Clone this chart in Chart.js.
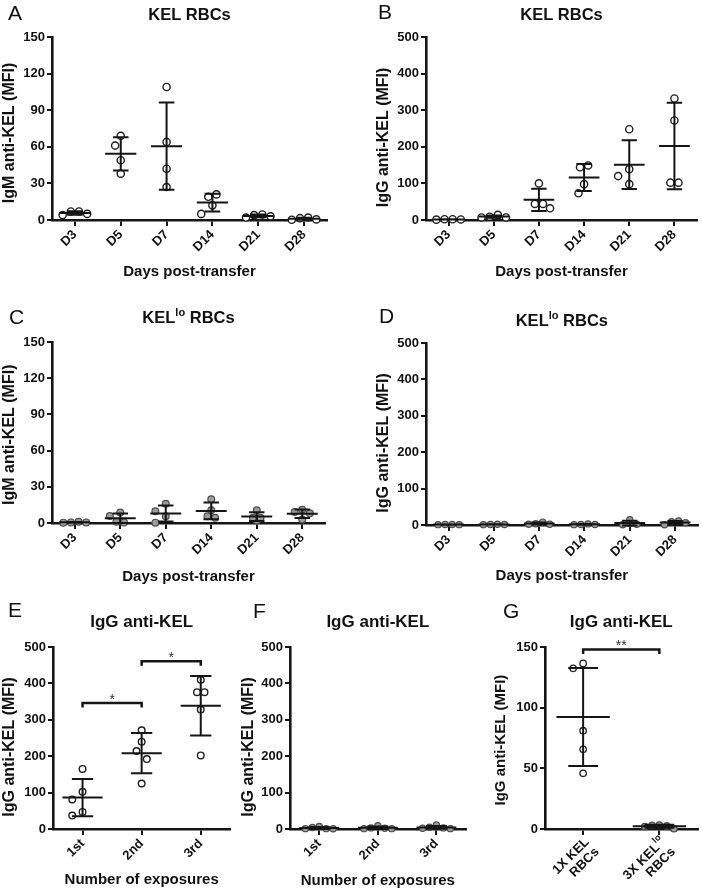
<!DOCTYPE html>
<html><head><meta charset="utf-8">
<script src="https://cdn.jsdelivr.net/npm/chart.js@4.4.1/dist/chart.umd.min.js"></script>
<style>
html,body{margin:0;padding:0;background:#fff;}
#fig{position:relative;width:702px;height:894px;overflow:hidden;background:#fff;}
.panel{position:absolute;}
.panel canvas{display:block;}
.letter{position:absolute;font-family:'Liberation Sans',Arial,sans-serif;font-size:21px;line-height:1;color:#111;}
</style></head><body><div id="fig"></div>
<script>
// ---------------- data ----------------
const dayCategories = ['D3','D5','D7','D14','D21','D28'];
const exposureCategories = ['1st','2nd','3rd'];
const comparisonCategories = [['1X KEL','RBCs'],['3X KEL<sup>lo</sup>','RBCs']];

const yTicks150by30 = [0,30,60,90,120,150];
const yTicks500 = [0,100,200,300,400,500];
const yTicks150by50 = [0,50,100,150];

// A: IgM anti-KEL, KEL RBCs (one list per day)
const igmKelRbc = [[7,4,5,7],[69,61,49,38],[109,64,42,27],[21,19,12,5],[4.5,2,3,4],[1.5,0.5,0.2,2]];
// B: IgG anti-KEL, KEL RBCs
const iggKelRbc = [[2,1.5,1,2],[9,7,7,14],[100,44,32,44],[149,144,98,73],[248,139,120,98],[332,272,102,102]];
// C: IgM anti-KEL, KELlo RBCs
const igmKelLoRbc = [[0.5,0.3,0.5,1],[5.8,0.5,1,8.6],[16,0.3,5.5,9.7],[19.6,10.5,4.4,5.5],[10.5,2,4.4,4.4],[11,2.8,9.1,8]];
// D: IgG anti-KEL, KELlo RBCs
const iggKelLoRbc = [[1.5,1,1,1.5],[1.5,1.5,1,2],[2,2,3.5,8],[1.5,1,1.5,3],[4,0.5,2,14.5],[11,0.5,9,6]];
// E: IgG anti-KEL by number of KEL exposures
const iggExposureKel = [[165,102,81,47,37],[271,240,214,192,125],[410,376,376,328,202]];
// F: IgG anti-KEL by number of KELlo exposures
const iggExposureKelLo = [[7,1,0.5,1,4],[9,2,1,1,3],[11,3,1,2,5]];
// G: 1X KEL vs 3X KELlo
const iggComparison = [[136.5,132.4,81,65.7,45.9],[3,2,0.2,2.5,3.3]];

const exposureBrackets = [{from:0,to:1,y:346,label:'*'},{from:1,to:2,y:461,label:'*'}];
const comparisonBrackets = [{from:0,to:1,y:148,label:'**'}];

// ---------------- helpers ----------------
const FONT = "'Liberation Sans', Arial, Helvetica, sans-serif";
Chart.defaults.font.family = FONT;
Chart.defaults.color = '#111';

function segments(text){
  const out=[]; const re=/<sup>(.*?)<\/sup>/g; let last=0,m;
  while((m=re.exec(text))){ if(m.index>last) out.push({t:text.slice(last,m.index),sup:false}); out.push({t:m[1],sup:true}); last=re.lastIndex; }
  if(last<text.length) out.push({t:text.slice(last),sup:false});
  return out;
}
function drawRich(ctx,text,x,y,align,size,weight){
  const segs=segments(text); const supSize=Math.round(size*0.68); const rise=size*0.42;
  const f=(s)=>`${weight} ${s}px ${FONT}`;
  let total=0; segs.forEach(s=>{ctx.font=f(s.sup?supSize:size); s.w=ctx.measureText(s.t).width; total+=s.w;});
  let cx = align==='center'? x-total/2 : align==='right'? x-total : x;
  ctx.textAlign='left';
  segs.forEach(s=>{ctx.font=f(s.sup?supSize:size); ctx.fillText(s.t,cx,s.sup?y-rise:y); cx+=s.w;});
}

function swarmOffsets(vals,pxPerUnit,diam){
  const Dc=diam*1.2, s=diam*0.65, tol=diam*0.35, sp=diam*0.95;
  const order=vals.map((v,i)=>i).sort((a,b)=>vals[b]-vals[a]);
  const placed=[];
  order.forEach(i=>{
    const y=vals[i]*pxPerUnit;
    for(let k=0;k<60;k++){
      const step=k===0?0:(k%2===1?-Math.ceil(k/2):Math.ceil(k/2));
      const x=step*s;
      if(placed.every(p=>Math.hypot(p.x-x,p.y-y)>=Dc)){placed.push({i,x,y});break;}
    }
  });
  const byY=placed.slice().sort((a,b)=>a.y-b.y);
  const rows=[]; let row=[byY[0]];
  for(let j=1;j<byY.length;j++){ if(byY[j].y-byY[j-1].y<tol) row.push(byY[j]); else {rows.push(row); row=[byY[j]];} }
  rows.push(row);
  rows.forEach(r=>{ if(r.length>1){ r.sort((a,b)=>a.x-b.x); r.forEach((p,j)=>{p.x=(j-(r.length-1)/2)*sp;}); }});
  const off=new Array(vals.length); placed.forEach(p=>{off[p.i]=p.x;}); return off;
}

function meanSdPlugin(groups,meanW,capW){
  return {id:'meanSd',afterDatasetsDraw(chart){
    const {ctx}=chart, xs=chart.scales.x, ys=chart.scales.y;
    const cat=Math.abs(xs.getPixelForValue(1)-xs.getPixelForValue(0));
    ctx.save(); ctx.strokeStyle='#151515'; ctx.lineWidth=2; ctx.lineCap='butt';
    groups.forEach((vals,i)=>{
      const n=vals.length, m=vals.reduce((a,b)=>a+b,0)/n;
      const sd=Math.sqrt(vals.reduce((a,b)=>a+(b-m)*(b-m),0)/(n-1));
      const x=xs.getPixelForValue(i), ym=ys.getPixelForValue(m), yt=ys.getPixelForValue(m+sd), yb=ys.getPixelForValue(m-sd);
      const hw=cat*meanW/2, hc=cat*capW/2;
      ctx.beginPath();
      ctx.moveTo(x-hw,ym); ctx.lineTo(x+hw,ym);
      ctx.moveTo(x,yt); ctx.lineTo(x,yb);
      ctx.moveTo(x-hc,yt); ctx.lineTo(x+hc,yt);
      ctx.moveTo(x-hc,yb); ctx.lineTo(x+hc,yb);
      ctx.stroke();
    });
    ctx.restore();
  }};
}
function titlePlugin(text,baseline,size){
  return {id:'richTitle',afterDraw(chart){
    const {ctx,chartArea:a}=chart; ctx.save(); ctx.fillStyle='#111'; ctx.textBaseline='alphabetic';
    drawRich(ctx,text,(a.left+a.right)/2,baseline,'center',size,'bold'); ctx.restore();
  }};
}
function bracketPlugin(brackets){
  return {id:'brackets',afterDraw(chart){
    const {ctx}=chart, xs=chart.scales.x, ys=chart.scales.y;
    ctx.save(); ctx.strokeStyle='#151515'; ctx.lineWidth=2.5; ctx.fillStyle='#333';
    brackets.forEach(b=>{
      const x1=xs.getPixelForValue(b.from), x2=xs.getPixelForValue(b.to), y=ys.getPixelForValue(b.y);
      ctx.beginPath(); ctx.moveTo(x1,y+4.5); ctx.lineTo(x1,y); ctx.lineTo(x2,y); ctx.lineTo(x2,y+4.5); ctx.stroke();
      ctx.font=`14px ${FONT}`; ctx.textAlign='center'; ctx.textBaseline='alphabetic';
      ctx.fillText(b.label,(x1+x2)/2,y+1);
    });
    ctx.restore();
  }};
}
function richXLabelPlugin(labels){
  return {id:'richX',afterDraw(chart){
    const {ctx,chartArea:a}=chart, xs=chart.scales.x;
    ctx.save(); ctx.fillStyle='#111'; ctx.textBaseline='middle';
    labels.forEach((lines,i)=>{
      const px=xs.getPixelForValue(i);
      ctx.save(); ctx.translate(px+4,a.bottom+11); ctx.rotate(-Math.PI/4);
      lines.forEach((ln,j)=>drawRich(ctx,ln,0,j*14,'right',13,'bold'));
      ctx.restore();
    });
    ctx.restore();
  }};
}

const fig=document.getElementById('fig');
function addLetter(ch,x,baseline){
  const d=document.createElement('div'); d.className='letter'; d.textContent=ch;
  d.style.left=x+'px'; d.style.top=(baseline-17.8)+'px'; fig.appendChild(d);
}

function makePanel(p){
  const [bl,bt,bw,bh]=p.box; const [al,ar,at,ab]=p.area;
  const wrap=document.createElement('div'); wrap.className='panel';
  wrap.style.left=bl+'px'; wrap.style.top=bt+'px'; wrap.style.width=bw+'px'; wrap.style.height=bh+'px';
  const cv=document.createElement('canvas'); cv.width=bw; cv.height=bh; cv.style.width=bw+'px'; cv.style.height=bh+'px';
  wrap.appendChild(cv); fig.appendChild(wrap);
  const n=p.cats.length, yMax=p.yTicks[p.yTicks.length-1];
  const catPx=(ar-al)/n, pxPerUnit=(ab-at)/yMax, diam=2*(p.radius+p.border/2);
  const styles=Array.isArray(p.style)?p.style:p.cats.map(()=>p.style);
  const datasets=p.groups.map((vals,i)=>{
    const off=swarmOffsets(vals,pxPerUnit,diam);
    const open=styles[i]==='open';
    return {data:vals.map((v,j)=>({x:i+off[j]/catPx,y:v})),pointRadius:p.radius,pointHoverRadius:p.radius,pointBorderWidth:p.border,
      pointBackgroundColor:open?'#ffffff':'#9c9c9c',pointBorderColor:open?'#1e1e1e':'#4d4d4d',showLine:false,clip:false};
  });
  const ySize=p.yTitleSize||16;
  const yTitlePadTop=p.yTitleX-bl-ySize/2;
  const nb=Math.round(2*(p.yShift||0)/(0.278*ySize));
  const yTitleText=p.yTitle+'\u00a0'.repeat(nb);
  const plugins=[meanSdPlugin(p.groups,p.meanW,p.capW),titlePlugin(p.title,p.titleBase-bt,p.titleSize)];
  if(p.brackets) plugins.push(bracketPlugin(p.brackets));
  if(p.richLabels) plugins.push(richXLabelPlugin(p.richLabels));
  const tickFont={size:13,weight:'bold',family:FONT};
  new Chart(cv,{
    type:'scatter',
    data:{datasets},
    options:{
      responsive:false,maintainAspectRatio:false,animation:false,events:[],
      layout:{padding:{left:0,right:bl+bw-ar,top:at-bt,bottom:0}},
      plugins:{legend:{display:false},tooltip:{enabled:false},title:{display:false}},
      scales:{
        x:{type:'linear',min:-0.5,max:n-0.5,bounds:'data',
          afterBuildTicks:s=>{s.ticks=p.cats.map((c,i)=>({value:i}));},
          afterFit:s=>{s.height=bt+bh-ab;},
          ticks:{display:!p.richLabels,autoSkip:false,minRotation:45,maxRotation:45,padding:1,font:tickFont,color:'#111',
            callback:v=>(typeof p.cats[v]==='string')?p.cats[v]:''},
          grid:{display:true,drawOnChartArea:false,drawTicks:true,tickLength:6,color:'#151515',lineWidth:2},
          border:{display:true,color:'#151515',width:2.6},
          title:{display:!!p.xTitle,text:p.xTitle||'',color:'#111',font:{size:15,weight:'bold',family:FONT,lineHeight:1},
            padding:{top:0,bottom:bh-7.5-(p.xTitleY-bt)}}
        },
        y:{type:'linear',min:0,max:yMax,bounds:'data',
          afterBuildTicks:s=>{s.ticks=p.yTicks.map(v=>({value:v}));},
          afterFit:s=>{s.width=al-bl;},
          ticks:{padding:2,font:tickFont,color:'#111'},
          grid:{display:true,drawOnChartArea:false,drawTicks:true,tickLength:5,color:'#151515',lineWidth:2},
          border:{display:true,color:'#151515',width:2.6},
          title:{display:true,text:yTitleText,color:'#111',font:{size:ySize,weight:'bold',family:FONT,lineHeight:1},
            padding:{top:yTitlePadTop,bottom:0}}
        }
      }
    },
    plugins
  });
}

const panels=[
 {letter:'A',lx:8,lb:20,box:[0,0,350,300],area:[52,327,37,220],title:'KEL RBCs',titleBase:20,titleSize:16.5,yTitle:'IgM anti-KEL (MFI)',yTitleX:10,yShift:4,
  xTitle:'Days post-transfer',xTitleY:272,cats:dayCategories,groups:igmKelRbc,yTicks:yTicks150by30,style:'open',radius:3.6,border:1.4,meanW:0.68,capW:0.34},
 {letter:'B',lx:378,lb:19,box:[350,0,352,300],area:[426,698,37,220],title:'KEL RBCs',titleBase:20,titleSize:16.5,yTitle:'IgG anti-KEL (MFI)',yTitleX:384,yShift:8,
  xTitle:'Days post-transfer',xTitleY:272,cats:dayCategories,groups:iggKelRbc,yTicks:yTicks500,style:'open',radius:3.6,border:1.4,meanW:0.68,capW:0.34},
 {letter:'C',lx:9,lb:324,box:[0,300,350,295],area:[52,325,342,523],title:'KEL<sup>lo</sup> RBCs',titleBase:323,titleSize:16.5,yTitle:'IgM anti-KEL (MFI)',yTitleX:10,yShift:2,
  xTitle:'Days post-transfer',xTitleY:577,cats:dayCategories,groups:igmKelLoRbc,yTicks:yTicks150by30,style:'gray',radius:3.4,border:1.2,meanW:0.68,capW:0.34},
 {letter:'D',lx:379,lb:323,box:[350,300,352,295],area:[426,698,343,525],title:'KEL<sup>lo</sup> RBCs',titleBase:326,titleSize:16.5,yTitle:'IgG anti-KEL (MFI)',yTitleX:384,yShift:8,
  xTitle:'Days post-transfer',xTitleY:576,cats:dayCategories,groups:iggKelLoRbc,yTicks:yTicks500,style:'gray',radius:3.1,border:1.2,meanW:0.68,capW:0.34},
 {letter:'E',lx:8,lb:617,box:[0,590,235,304],area:[53,232,647,829],title:'IgG anti-KEL',titleBase:627,titleSize:17,yTitle:'IgG anti-KEL (MFI)',yTitleX:10,yShift:8,
  xTitle:'Number of exposures',xTitleY:880,cats:exposureCategories,groups:iggExposureKel,yTicks:yTicks500,style:'open',radius:3.3,border:1.4,meanW:0.68,capW:0.36,brackets:exposureBrackets},
 {letter:'F',lx:253,lb:618,box:[235,590,235,304],area:[290,468,647,829],title:'IgG anti-KEL',titleBase:627,titleSize:17,yTitle:'IgG anti-KEL (MFI)',yTitleX:249,yShift:8,
  xTitle:'Number of exposures',xTitleY:881,cats:exposureCategories,groups:iggExposureKelLo,yTicks:yTicks500,style:'gray',radius:3.1,border:1.2,meanW:0.68,capW:0.36},
 {letter:'G',lx:503,lb:618,box:[470,590,232,304],area:[545,698,647,829],title:'IgG anti-KEL',titleBase:627,titleSize:17,yTitle:'IgG anti-KEL (MFI)',yTitleX:501,yTitleSize:15,yShift:3,
  xTitle:'',xTitleY:880,cats:comparisonCategories.map(l=>l.join(' ').replace(/<\/?sup>/g,'')),richLabels:comparisonCategories,groups:iggComparison,yTicks:yTicks150by50,style:['open','gray'],radius:3.2,border:1.3,meanW:0.7,capW:0.39,brackets:comparisonBrackets}
];

panels.forEach(p=>{ makePanel(p); addLetter(p.letter,p.lx,p.lb); });
</script></body></html>
